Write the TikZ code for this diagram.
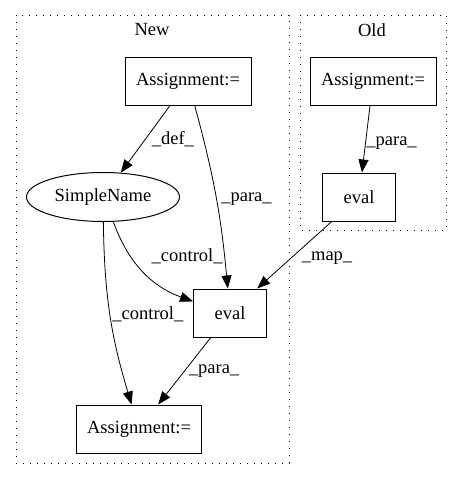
\documentclass[tikz,border=0pt]{standalone}
\usepackage{fontspec}
\setmainfont{Liberation Serif}
\usetikzlibrary{arrows.meta, shapes.geometric}

\begin{document}
\begin{tikzpicture}[
  x=1pt, y=-1pt,
  font=\fontsize{18.5}{22}\selectfont,
  cluster/.style={draw, line width=0.9pt, dash pattern=on 1.2pt off 5.8pt},
  stmt/.style={draw, line width=1pt, rectangle, inner sep=0, minimum height=48pt},
  var/.style={draw, line width=1pt, ellipse, inner sep=0, minimum width=153pt, minimum height=49pt},
  link/.style={-{Triangle[length=13pt, width=10pt]}, line width=0.8pt},
  lbl/.style={inner sep=2pt}]

  \useasboundingbox (0,0) rectangle (463,480);

  % The two clusters with their titles
  \draw[cluster] (16,15) rectangle (289,463);
  \draw[cluster] (300,15) rectangle (446,230);
  \node (newtitle) at (152,30) {New};
  \node (oldtitle) at (372,30) {Old};

  % Nodes at their positions
  \node[stmt, minimum width=126pt] (newassign) at (188,81) {Assignment:=};
  \node[var] (simplename) at (103,197) {SimpleName};
  \node[stmt, minimum width=73pt] (neweval) at (230,313) {eval};
  \node[stmt, minimum width=125pt] (target) at (139,429) {Assignment:=};
  \node[stmt, minimum width=126pt] (oldassign) at (373,81) {Assignment:=};
  \node[stmt, minimum width=73pt] (oldeval) at (359,197) {eval};

  % Draw the arrows between the nodes and label them.
  \draw[link] (newassign) -- node[lbl, midway, right, xshift=4pt] {\_def\_} (simplename);
  \draw[link] (newassign) to[bend left=5] node[lbl, midway, right, xshift=3pt, yshift=-3pt] {\_para\_} (neweval);
  \draw[link] (oldassign) -- node[lbl, midway, right, inner sep=0pt, yshift=-4pt] {\_para\_} (oldeval);
  \draw[link] (simplename) to[bend right=25] node[lbl, midway, above right, xshift=6pt, yshift=5pt] {\_control\_} (neweval);
  \draw[link] (simplename) to[bend right=8] node[lbl, midway, right] {\_control\_} (target);
  \draw[link] (neweval) -- node[lbl, midway, right, xshift=2pt] {\_para\_} (target);
  \draw[link] (oldeval) -- node[lbl, midway, right, xshift=5pt, yshift=-3pt] {\_map\_} (neweval);

\end{tikzpicture}
\end{document}
